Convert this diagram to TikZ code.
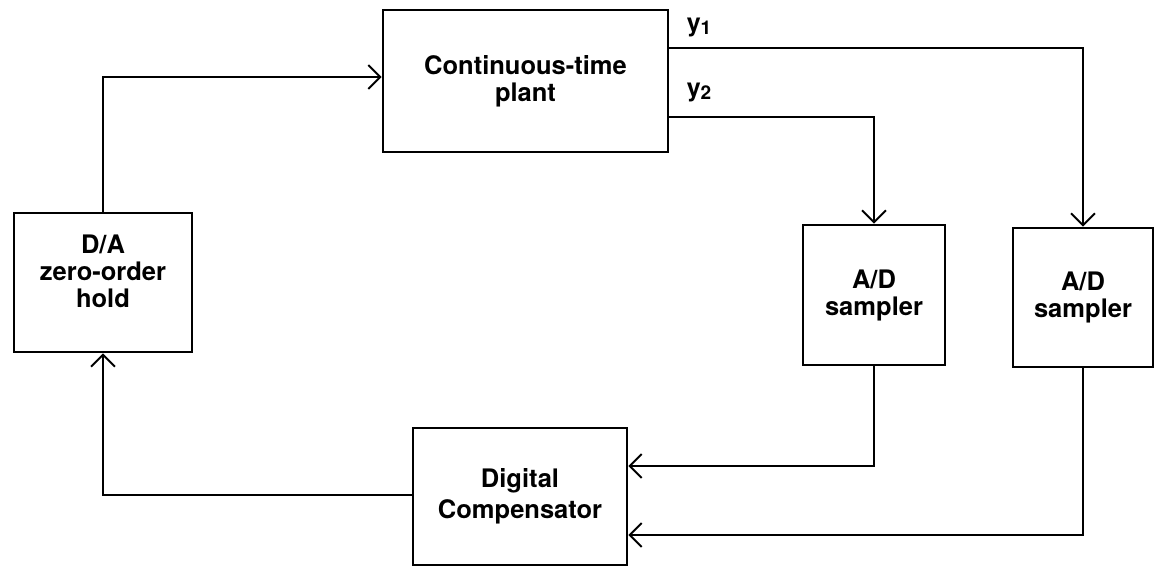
\documentclass[tikz,border=0pt]{standalone}
\usepackage{fontspec}
\setmainfont{TeX Gyre Heros}
\usetikzlibrary{arrows.meta}
\begin{document}
\begin{tikzpicture}[x=1pt,y=-1pt,
  blk/.style={draw,line width=2.6pt,inner sep=0pt,align=center,
    font=\fontsize{25.5}{27}\selectfont\bfseries},
  conn/.style={line width=2pt,-{Straight Barb[length=12pt,width=24pt,line width=2pt]}},
  sig/.style={font=\fontsize{25}{26}\selectfont\bfseries}]
\useasboundingbox (0,0) rectangle (1155,567);
\node[blk,minimum width=285pt,minimum height=142pt] (plant) at (525.5,81) {Continuous-time\\plant};
\node[blk,minimum width=178pt,minimum height=139pt] (da) at (103,282.5) {D/A\\zero-order\\hold\\[-4pt]\mbox{}};
\node[blk,minimum width=142pt,minimum height=140pt] (ad1) at (874,295) {A/D\\sampler};
\node[blk,minimum width=140pt,minimum height=139pt] (ad2) at (1083,297.5) {A/D\\sampler};
\node[blk,minimum width=214pt,minimum height=137pt] (comp) at (520,496.5) {Digital\\[4pt]Compensator};
\node[sig] (y1) at (699,27) {y\raisebox{-3pt}{\fontsize{19}{20}\selectfont 1}};
\node[sig] (y2) at (699,92) {y\raisebox{-3pt}{\fontsize{19}{20}\selectfont 2}};
\draw[conn] (plant.east |- 0,48) -| (ad2.north);
\draw[conn] (plant.east |- 0,117) -| (ad1.north);
\draw[conn] (ad1.south) |- (comp.east |- 0,466);
\draw[conn] (ad2.south) |- (comp.east |- 0,535);
\draw[conn] (comp.west |- 0,495) -| (da.south);
\draw[conn] (da.north) |- (plant.west |- 0,77);
\end{tikzpicture}
\end{document}
